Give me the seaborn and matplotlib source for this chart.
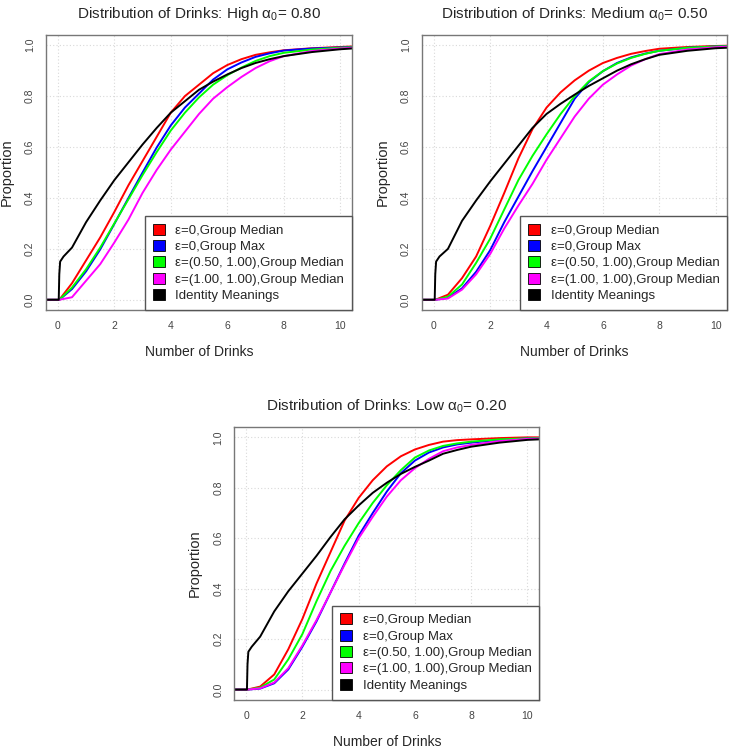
import pandas as pd
import matplotlib
matplotlib.use("Agg")
import matplotlib.pyplot as plt
from matplotlib.patches import Patch
import seaborn as sns

x_curve = [-0.42, 0.05, 0.5, 1.0, 1.5, 2.0, 2.5, 3.0, 3.5, 4.0, 4.5, 5.0,
           5.5, 6.0, 6.5, 7.0, 7.5, 8.0, 9.0, 10.0, 10.42]
x_ident = [-0.42, 0.03, 0.05, 0.08, 0.2, 0.5, 1.0, 1.5, 2.0, 2.5, 3.0, 3.5,
           4.0, 4.5, 5.0, 5.5, 6.0, 6.5, 7.0, 7.5, 8.0, 9.0, 10.0, 10.42]

# High alpha0 = 0.80
high_red = [0, 0, 0.065, 0.155, 0.245, 0.345, 0.45, 0.545, 0.64, 0.735, 0.80, 0.845,
            0.89, 0.922, 0.945, 0.962, 0.972, 0.98, 0.988, 0.993, 0.995]
high_blue = [0, 0, 0.042, 0.112, 0.198, 0.298, 0.40, 0.50, 0.598, 0.685, 0.755, 0.81,
             0.865, 0.905, 0.932, 0.954, 0.968, 0.979, 0.987, 0.991, 0.993]
high_green = [0, 0, 0.048, 0.12, 0.205, 0.30, 0.395, 0.49, 0.58, 0.665, 0.735, 0.795,
              0.845, 0.882, 0.912, 0.938, 0.957, 0.97, 0.983, 0.99, 0.992]
high_magenta = [0, 0, 0.01, 0.075, 0.14, 0.225, 0.315, 0.42, 0.51, 0.59, 0.66, 0.73,
                0.79, 0.835, 0.875, 0.91, 0.937, 0.957, 0.977, 0.987, 0.99]
high_ident = [0, 0, 0.10, 0.15, 0.17, 0.205, 0.305, 0.39, 0.47, 0.54, 0.61, 0.675,
              0.735, 0.78, 0.825, 0.857, 0.885, 0.91, 0.93, 0.945, 0.957, 0.973, 0.984, 0.987]

# Medium alpha0 = 0.50
med_red = [0, 0, 0.02, 0.085, 0.17, 0.29, 0.42, 0.555, 0.67, 0.755, 0.815, 0.862,
           0.90, 0.93, 0.95, 0.966, 0.977, 0.986, 0.993, 0.997, 0.998]
med_blue = [0, 0, 0.008, 0.045, 0.11, 0.195, 0.305, 0.405, 0.505, 0.60, 0.695, 0.79,
            0.855, 0.898, 0.93, 0.952, 0.967, 0.978, 0.99, 0.995, 0.996]
med_green = [0, 0, 0.012, 0.06, 0.145, 0.24, 0.355, 0.47, 0.565, 0.65, 0.73, 0.80,
             0.858, 0.898, 0.928, 0.95, 0.966, 0.978, 0.99, 0.995, 0.996]
med_magenta = [0, 0, 0.005, 0.04, 0.10, 0.18, 0.28, 0.37, 0.455, 0.55, 0.635, 0.72,
               0.79, 0.845, 0.885, 0.92, 0.945, 0.965, 0.983, 0.992, 0.994]
med_ident = [0, 0, 0.10, 0.15, 0.17, 0.20, 0.31, 0.39, 0.465, 0.535, 0.605, 0.675,
             0.73, 0.77, 0.806, 0.84, 0.87, 0.90, 0.925, 0.945, 0.962, 0.978, 0.988, 0.99]

# Low alpha0 = 0.20
low_red = [0, 0, 0.012, 0.06, 0.16, 0.28, 0.42, 0.545, 0.67, 0.76, 0.83, 0.885,
           0.925, 0.952, 0.97, 0.983, 0.989, 0.992, 0.997, 1.0, 1.0]
low_blue = [0, 0, 0.004, 0.025, 0.08, 0.17, 0.27, 0.385, 0.50, 0.61, 0.70, 0.785,
            0.858, 0.908, 0.94, 0.96, 0.972, 0.979, 0.99, 0.996, 0.997]
low_green = [0, 0, 0.008, 0.04, 0.12, 0.22, 0.35, 0.47, 0.57, 0.66, 0.74, 0.81,
             0.87, 0.92, 0.948, 0.966, 0.976, 0.983, 0.992, 0.996, 0.997]
low_magenta = [0, 0, 0.005, 0.028, 0.085, 0.175, 0.275, 0.385, 0.495, 0.60, 0.685, 0.765,
               0.83, 0.878, 0.915, 0.945, 0.96, 0.97, 0.985, 0.994, 0.995]
low_ident = [0, 0, 0.10, 0.15, 0.17, 0.21, 0.31, 0.39, 0.46, 0.53, 0.605, 0.675,
             0.73, 0.78, 0.82, 0.855, 0.883, 0.908, 0.935, 0.95, 0.963, 0.979, 0.99, 0.992]

labels = ["\u03b5=0,Group Median", "\u03b5=0,Group Max",
          "\u03b5=(0.50, 1.00),Group Median", "\u03b5=(1.00, 1.00),Group Median",
          "Identity Meanings"]
colors = ["#FF0000", "#0000FF", "#00FF00", "#FF00FF", "#000000"]
titles = ["High", "Medium", "Low"]
alphas = ["0.80", "0.50", "0.20"]

sns.set_style("white")
plt.rcParams['font.family'] = ['Liberation Sans', 'DejaVu Sans']
plt.rcParams['mathtext.fontset'] = 'custom'
plt.rcParams['mathtext.rm'] = 'Liberation Sans'
plt.rcParams['mathtext.it'] = 'Liberation Sans'

panels = [
    (titles[0], alphas[0], [high_red, high_blue, high_green, high_magenta], high_ident,
     [0.0622, 0.5856, 0.4135, 0.3676]),
    (titles[1], alphas[1], [med_red, med_blue, med_green, med_magenta], med_ident,
     [0.5703, 0.5856, 0.4127, 0.3676]),
    (titles[2], alphas[2], [low_red, low_blue, low_green, low_magenta], low_ident,
     [0.3166, 0.0646, 0.4122, 0.3642]),
]

fig = plt.figure(figsize=(7.4, 7.48), dpi=100)

for name, a0, curves, ident, pos in panels:
    ax = fig.add_axes(pos)
    rows = []
    for lab, vals in zip(labels[:4], curves):
        for x, y in zip(x_curve, vals):
            rows.append((lab, x, y))
    for x, y in zip(x_ident, ident):
        rows.append((labels[4], x, y))
    df = pd.DataFrame(rows, columns=["series", "drinks", "prop"])

    for x in [0, 2, 4, 6, 8, 10]:
        ax.axvline(x, color="#d9d9d9", lw=0.8, ls=(0, (1, 2)), zorder=0)
    for y in [0, 0.2, 0.4, 0.6, 0.8, 1.0]:
        ax.axhline(y, color="#d9d9d9", lw=0.8, ls=(0, (1, 2)), zorder=0)

    sns.lineplot(data=df, x="drinks", y="prop", hue="series", hue_order=labels,
                 palette=colors, lw=1.4, legend=False, ax=ax, sort=False)

    ax.set_xlim(-0.42, 10.42)
    ax.set_ylim(-0.04, 1.04)
    ax.set_xticks([0, 2, 4, 6, 8, 10])
    ax.set_yticks([0, 0.2, 0.4, 0.6, 0.8, 1.0])
    ax.set_yticklabels(["0.0", "0.2", "0.4", "0.6", "0.8", "1.0"], rotation=90, va="center")
    ax.tick_params(direction="out", length=5, width=0.8, colors="#555555",
                   labelsize=7.5, labelcolor="#444444", pad=3)
    for s in ax.spines.values():
        s.set_color("#777777")
        s.set_linewidth(1.0)
    ax.set_xlabel("Number of Drinks", fontsize=10, labelpad=10)
    ax.set_ylabel("Proportion", fontsize=10.5, labelpad=8)
    ax.set_title("Distribution of Drinks: " + name + " \u03b1$_0$= " + a0,
                 fontsize=11, pad=12)

    handles = [Patch(facecolor=c, edgecolor="black", lw=0.6) for c in colors]
    leg = ax.legend(handles, labels, loc="lower right", borderaxespad=0,
                    fontsize=9.5, handlelength=0.9, handleheight=0.9,
                    handletextpad=0.8, labelspacing=0.25, borderpad=0.6,
                    fancybox=False, framealpha=1, edgecolor="#555555")
    leg.get_frame().set_linewidth(1.0)

fig.savefig("out.png", dpi=100)
